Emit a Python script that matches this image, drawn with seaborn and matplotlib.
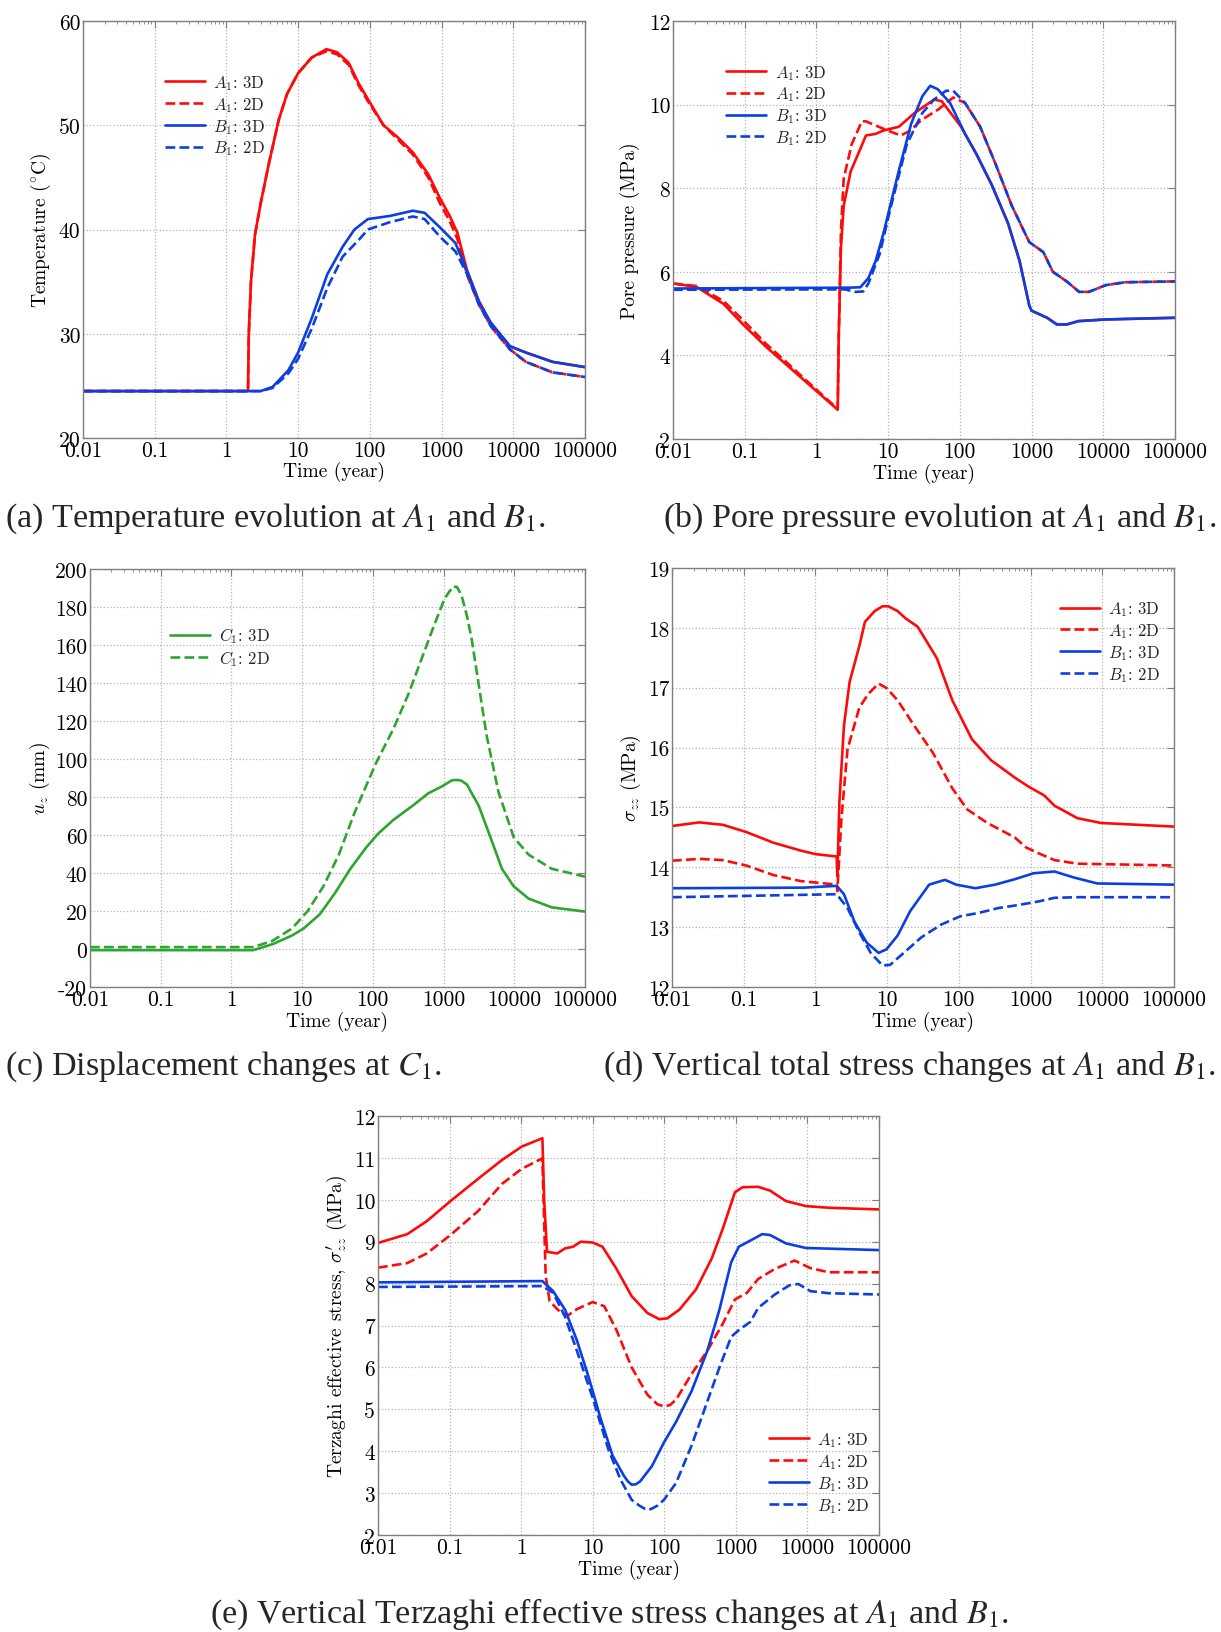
import numpy as np
import pandas as pd
import matplotlib
matplotlib.use("Agg")
import matplotlib.pyplot as plt
import matplotlib.ticker as mticker
import seaborn as sns

# ---------------- data: time (year) and responses ----------------
# (a) temperature (deg C)
t_temp_A3 = [0.01, 2.0, 2.05, 2.2, 2.5, 3.0, 3.9, 5.35, 7, 10, 15.5, 24.8, 35, 50.6, 70, 94,
             155, 240, 397, 653, 950, 1300, 1660, 2280, 3320, 4800, 9000, 14900, 35500, 100000]
temp_A3 = [24.5, 24.5, 30, 35, 39.5, 42.5, 46.3, 50.5, 53, 55, 56.5, 57.3, 57.0, 56, 54, 52.5,
           50, 48.9, 47.4, 45.3, 43, 41.3, 39.7, 36, 33.1, 31.1, 28.8, 28.2, 27.3, 26.8]
t_temp_A2 = [0.01, 2.0, 2.05, 2.2, 2.5, 3.0, 3.9, 5.35, 7, 10, 15.5, 24.8, 35, 50.6, 70, 94,
             155, 240, 397, 653, 950, 1300, 1660, 2280, 3320, 5000, 9000, 15000, 35000, 100000]
temp_A2 = [24.5, 24.5, 30, 35, 39.5, 42.5, 46.3, 50.5, 53, 55, 56.5, 57.1, 56.8, 55.8, 53.8, 52.3,
           50, 48.7, 47.2, 45.0, 42.5, 40.8, 39.1, 35.6, 32.8, 30.6, 28.5, 27.3, 26.3, 25.85]
t_temp_B3 = [0.01, 3.0, 4.4, 7.3, 10, 15.5, 25.5, 41.8, 61, 94, 190, 397, 580, 950, 1560,
             2280, 3320, 4800, 9000, 14900, 35500, 100000]
temp_B3 = [24.5, 24.5, 24.9, 26.5, 28.2, 31.5, 35.7, 38.35, 40, 41, 41.3, 41.8, 41.6, 40.2, 38.7,
           36, 33.1, 31.1, 28.8, 28.2, 27.3, 26.8]
t_temp_B2 = [0.01, 3.0, 4.4, 7.3, 10, 15.5, 25.5, 41.8, 70, 94, 190, 397, 580, 950, 1560,
             2280, 3320, 4800, 9000, 15000, 35000, 100000]
temp_B2 = [24.5, 24.5, 24.8, 26.2, 27.6, 30.5, 34.4, 37.4, 39.0, 40, 40.7, 41.25, 41, 39.3, 37.9,
           35.7, 32.8, 30.8, 28.5, 27.3, 26.3, 25.85]

# (b) pore pressure (MPa)
t_pp_A3 = [0.01, 0.0212, 0.0508, 0.095, 0.2, 0.375, 0.7, 1.16, 1.98, 2.05, 2.2, 2.4, 3.0, 4.0,
           4.9, 6.7, 8.6, 14.1, 23.4, 43.6, 56, 104, 171, 280, 470, 680, 930, 1000, 1650, 2250,
           3090, 4500, 10800, 100000]
pp_A3 = [5.72, 5.64, 5.23, 4.74, 4.2, 3.79, 3.38, 3.05, 2.7, 4.5, 6.6, 7.58, 8.4, 8.9,
         9.26, 9.3, 9.38, 9.47, 9.8, 10.12, 10.08, 9.47, 8.81, 8.07, 7.16, 6.26, 5.19, 5.07, 4.9, 4.74,
         4.74, 4.82, 4.86, 4.9]
t_pp_A2 = [0.01, 0.0212, 0.0508, 0.095, 0.2, 0.375, 0.7, 1.16, 1.98, 2.05, 2.2, 2.4, 3.1, 4.3,
           4.9, 6.7, 9.8, 15, 20.4, 29, 49.6, 81, 118, 192, 318, 530, 770, 930, 1460, 1980, 3090,
           4600, 6300, 10800, 20000, 100000]
pp_A2 = [5.72, 5.66, 5.3, 4.84, 4.27, 3.85, 3.42, 3.08, 2.72, 4.5, 7.0, 8.23, 9.05, 9.6,
         9.6, 9.5, 9.38, 9.26, 9.38, 9.63, 9.88, 10.17, 10.04, 9.47, 8.56, 7.58, 7.0, 6.71, 6.47, 6.0, 5.77,
         5.52, 5.52, 5.68, 5.75, 5.77]
t_pp_B3 = [0.01, 2.8, 4.1, 5.3, 6.7, 8.6, 14, 21, 30, 38.5, 49, 73, 118, 171, 280, 470, 680, 930,
           1000, 1650, 2250, 3090, 4500, 10800, 100000]
pp_B3 = [5.6, 5.62, 5.63, 5.85, 6.26, 6.92, 8.4, 9.55, 10.2, 10.45, 10.37, 10.04, 9.3, 8.81, 8.07,
         7.16, 6.26, 5.19, 5.07, 4.9, 4.74, 4.74, 4.82, 4.86, 4.9]
t_pp_B2 = [0.01, 2.5, 3.5, 4.5, 5.3, 7.6, 11, 18.2, 30, 43.6, 64, 81, 118, 192, 318, 530, 770, 930,
           1460, 1980, 3090, 4600, 6300, 10800, 20000, 100000]
pp_B2 = [5.57, 5.58, 5.52, 5.53, 5.72, 6.42, 7.58, 9.05, 9.8, 10.12, 10.33, 10.33, 10.04, 9.47, 8.56,
         7.58, 7.0, 6.71, 6.47, 6.0, 5.77, 5.52, 5.52, 5.68, 5.75, 5.77]

# (c) vertical displacement (mm)
t_uz_C3 = [0.01, 2.04, 3.8, 7.2, 10.5, 17.7, 29, 48, 80, 118, 196, 365, 605, 950, 1300, 1400,
           1650, 1800, 2150, 2500, 3140, 4600, 6700, 9800, 16000, 34000, 100000]
uz_C3 = [-0.6, -0.6, 2.5, 7.1, 10.8, 18.2, 29.3, 42.2, 53.3, 60.6, 68, 75.4, 81.9, 85.6, 88.7, 88.9,
         88.9, 88.5, 86.5, 82, 75.4, 58.8, 42.2, 33, 26.5, 21.9, 19.7]
t_uz_C2 = [0.01, 2.04, 3.8, 7.2, 12, 20, 33, 55, 110, 196, 321, 470, 690, 1030, 1200, 1380, 1550,
           1800, 2150, 2500, 2800, 4080, 5960, 9800, 16000, 34000, 100000]
uz_C2 = [1.0, 1.0, 4.3, 10.8, 20, 33, 49.6, 71.7, 97.6, 116, 134.5, 151, 167.7, 184.3, 188, 190.8,
         190.5, 186, 175, 163, 151, 112, 82.8, 58.8, 49.6, 42.2, 38.1]

# (d) vertical total stress (MPa)
t_szz_A3 = [0.01, 0.024, 0.051, 0.108, 0.26, 0.62, 1.0, 1.98, 2.02, 2.16, 2.5, 3.0, 4.1, 4.9, 6.7,
            8.6, 10.4, 14, 18, 26.6, 49.5, 81, 152, 280, 600, 930, 1550, 2150, 4500, 9600, 100000]
szz_A3 = [14.69, 14.75, 14.71, 14.59, 14.41, 14.28, 14.22, 14.18, 13.85, 15.1, 16.37, 17.1, 17.7,
          18.1, 18.28, 18.36, 18.36, 18.28, 18.16, 18.02, 17.49, 16.79, 16.14, 15.79, 15.5, 15.35,
          15.2, 15.03, 14.82, 14.74, 14.68]
t_szz_A2 = [0.01, 0.024, 0.051, 0.108, 0.26, 0.62, 1.98, 2.02, 2.3, 2.8, 4.1, 5.5, 7.6, 9.9, 14,
            23.4, 43.6, 81, 130, 250, 600, 870, 1260, 2150, 4500, 100000]
szz_A2 = [14.11, 14.14, 14.12, 14.03, 13.87, 13.77, 13.71, 13.6, 14.8, 15.97, 16.67, 16.9, 17.07,
          16.99, 16.79, 16.38, 15.91, 15.32, 14.97, 14.74, 14.5, 14.33, 14.24, 14.12, 14.06, 14.03]
t_szz_B3 = [0.01, 0.7, 1.98, 2.5, 3.5, 5.2, 7.6, 9.8, 14, 21, 38.5, 64, 92, 170, 320, 600, 1100,
            2150, 4000, 8500, 100000]
szz_B3 = [13.65, 13.66, 13.69, 13.55, 13.09, 12.74, 12.57, 12.63, 12.86, 13.27, 13.71, 13.79, 13.71,
          13.65, 13.71, 13.8, 13.9, 13.93, 13.83, 13.73, 13.71]
t_szz_B2 = [0.01, 1.98, 2.8, 4.1, 5.9, 8.6, 11, 18.2, 30, 56, 104, 192, 360, 680, 1300, 2150, 4500,
            100000]
szz_B2 = [13.5, 13.55, 13.32, 12.91, 12.57, 12.36, 12.37, 12.6, 12.83, 13.04, 13.18, 13.24, 13.32,
          13.37, 13.43, 13.49, 13.5, 13.5]

# (e) vertical Terzaghi effective stress (MPa)
t_eff_A3 = [0.01, 0.0256, 0.048, 0.103, 0.25, 0.54, 1.02, 1.98, 2.1, 2.3, 3.2, 4.1, 5.3, 6.8, 10,
            13.7, 21.5, 35, 58, 85, 110, 163, 277, 460, 660, 970, 1240, 2050, 3000, 5000, 9500,
            20000, 100000]
eff_A3 = [8.97, 9.18, 9.49, 9.97, 10.5, 10.95, 11.27, 11.47, 9.97, 8.76, 8.72, 8.84, 8.88, 9.0, 8.98,
          8.88, 8.35, 7.7, 7.3, 7.15, 7.17, 7.38, 7.86, 8.6, 9.32, 10.18, 10.3, 10.31, 10.22, 9.97,
          9.85, 9.81, 9.77]
t_eff_A2 = [0.01, 0.0256, 0.048, 0.103, 0.25, 0.54, 1.02, 1.98, 2.2, 2.5, 3.6, 4.6, 6.0, 10, 14.5,
            21.5, 35, 58, 80, 99, 120, 146, 240, 400, 660, 970, 1430, 2050, 3500, 6600, 11000, 20000,
            100000]
eff_A2 = [8.38, 8.49, 8.72, 9.16, 9.73, 10.38, 10.74, 10.99, 8.19, 7.58, 7.3, 7.25, 7.39, 7.56, 7.46,
          6.89, 6.0, 5.35, 5.12, 5.07, 5.1, 5.23, 5.84, 6.4, 7.05, 7.62, 7.78, 8.11, 8.35, 8.55, 8.37,
          8.27, 8.27]
t_eff_B3 = [0.01, 1.98, 2.8, 4.1, 6.0, 8.8, 12.9, 19.0, 27.6, 31, 35, 40, 46, 67, 99, 146, 240, 400,
            590, 860, 1100, 1820, 2330, 3000, 5000, 9500, 100000]
eff_B3 = [8.03, 8.06, 7.82, 7.38, 6.65, 5.76, 4.78, 3.89, 3.4, 3.28, 3.2, 3.21, 3.28, 3.64, 4.21,
          4.7, 5.43, 6.4, 7.38, 8.51, 8.88, 9.08, 9.18, 9.16, 8.96, 8.85, 8.8]
t_eff_B2 = [0.01, 1.98, 2.8, 4.1, 6.0, 10, 16.5, 24.5, 35, 45, 53, 60, 67, 80, 99, 146, 240, 400,
            590, 860, 1100, 1600, 2050, 3500, 5600, 7500, 11000, 20000, 100000]
eff_B2 = [7.92, 7.94, 7.78, 7.21, 6.4, 5.27, 4.05, 3.32, 2.84, 2.7, 2.63, 2.6, 2.63, 2.7, 2.84,
          3.24, 4.13, 5.19, 6.0, 6.73, 6.89, 7.09, 7.42, 7.74, 7.96, 7.99, 7.82, 7.77, 7.74]

x_tick_values = [0.01, 0.1, 1, 10, 100, 1000, 10000, 100000]
x_tick_labels = ["0.01", "0.1", "1", "10", "100", "1000", "10000", "100000"]

# ---------------- style ----------------
sns.set_theme(style="white")
plt.rcParams.update({
    "font.family": ["cmr10", "DejaVu Serif"],
    "mathtext.fontset": "cm",
    "axes.unicode_minus": False,
    "axes.edgecolor": "#7f7f7f",
    "axes.linewidth": 1.0,
    "xtick.color": "#7f7f7f",
    "ytick.color": "#7f7f7f",
    "xtick.labelcolor": "black",
    "ytick.labelcolor": "black",
    "xtick.labelsize": 15.5,
    "ytick.labelsize": 15.5,
    "axes.labelsize": 14,
    "axes.labelcolor": "black",
})

RED = "#ff0a0a"
BLUE = "#0d3fe0"
GREEN = "#2ea52e"
LW = 1.9

W, H = 1221, 1633
fig = plt.figure(figsize=(W / 100, H / 100), dpi=100)


def add_axes(left, right, top, bottom):
    return fig.add_axes([left / W, 1 - bottom / H, (right - left) / W, (bottom - top) / H])


def draw(ax, t, v, color, dashed, label):
    df = pd.DataFrame({"t": t, "v": v})
    sns.lineplot(data=df, x="t", y="v", ax=ax, color=color, lw=LW,
                 linestyle="--" if dashed else "-", label=label,
                 estimator=None, sort=False)


def style_axes(ax, yticks, ylim, ylabel, ylab_x):
    ax.set_xscale("log")
    ax.set_xlim(0.01, 1e5)
    ax.set_ylim(*ylim)
    ax.set_xticks(x_tick_values)
    ax.xaxis.set_major_formatter(mticker.FixedFormatter(x_tick_labels))
    ax.xaxis.set_minor_locator(mticker.LogLocator(base=10, subs=np.arange(2, 10), numticks=20))
    ax.xaxis.set_minor_formatter(mticker.NullFormatter())
    ax.set_yticks(yticks)
    ax.yaxis.set_major_formatter(mticker.FuncFormatter(lambda v, p: f"{v:g}"))
    ax.tick_params(which="both", direction="in", top=True, right=True)
    ax.tick_params(which="major", length=5, width=0.8, pad=2)
    ax.tick_params(which="minor", length=2.5, width=0.6)
    ax.grid(True, which="major", linestyle=":", color="#b4b4b4", linewidth=0.9)
    ax.set_xlabel("Time (year)")
    ax.set_ylabel(ylabel)
    ax.xaxis.set_label_coords(0.5, -0.056)
    ax.yaxis.set_label_coords(ylab_x, 0.5)
    for s in ax.spines.values():
        s.set_visible(True)


def legend(ax, x, y):
    ax.legend(loc="upper left", bbox_to_anchor=(x, y), frameon=False, fontsize=12,
              borderpad=0, borderaxespad=0, handlelength=2.4, handletextpad=0.5,
              labelspacing=0.18)


lab_A3, lab_A2 = "$A_1$: 3D", "$A_1$: 2D"
lab_B3, lab_B2 = "$B_1$: 3D", "$B_1$: 2D"

# (a) temperature
ax = add_axes(83, 585, 22, 439)
draw(ax, t_temp_A3, temp_A3, RED, False, lab_A3)
draw(ax, t_temp_A2, temp_A2, RED, True, lab_A2)
draw(ax, t_temp_B3, temp_B3, BLUE, False, lab_B3)
draw(ax, t_temp_B2, temp_B2, BLUE, True, lab_B2)
style_axes(ax, [20, 30, 40, 50, 60], (20, 60), r"Temperature ($^{\circ}$C)", -0.059)
legend(ax, 0.163, 0.875)

# (b) pore pressure
ax = add_axes(673, 1175, 22, 440)
draw(ax, t_pp_A3, pp_A3, RED, False, lab_A3)
draw(ax, t_pp_A2, pp_A2, RED, True, lab_A2)
draw(ax, t_pp_B3, pp_B3, BLUE, False, lab_B3)
draw(ax, t_pp_B2, pp_B2, BLUE, True, lab_B2)
style_axes(ax, [2, 4, 6, 8, 10, 12], (2, 12), "Pore pressure (MPa)", -0.065)
legend(ax, 0.106, 0.9)

# (c) displacement
ax = add_axes(90, 585, 570, 988)
draw(ax, t_uz_C3, uz_C3, GREEN, False, "$C_1$: 3D")
draw(ax, t_uz_C2, uz_C2, GREEN, True, "$C_1$: 2D")
style_axes(ax, list(range(-20, 201, 20)), (-20, 200), "$u_z$ (mm)", -0.076)
legend(ax, 0.162, 0.865)

# (d) vertical total stress
ax = add_axes(672, 1174, 569, 988)
draw(ax, t_szz_A3, szz_A3, RED, False, lab_A3)
draw(ax, t_szz_A2, szz_A2, RED, True, lab_A2)
draw(ax, t_szz_B3, szz_B3, BLUE, False, lab_B3)
draw(ax, t_szz_B2, szz_B2, BLUE, True, lab_B2)
style_axes(ax, list(range(12, 20)), (12, 19), r"$\sigma_{zz}$ (MPa)", -0.057)
legend(ax, 0.772, 0.925)

# (e) vertical Terzaghi effective stress
ax = add_axes(378, 879, 1117, 1536)
draw(ax, t_eff_A3, eff_A3, RED, False, lab_A3)
draw(ax, t_eff_A2, eff_A2, RED, True, lab_A2)
draw(ax, t_eff_B3, eff_B3, BLUE, False, lab_B3)
draw(ax, t_eff_B2, eff_B2, BLUE, True, lab_B2)
style_axes(ax, list(range(2, 13)), (2, 12),
           r"Terzaghi effective stress, $\sigma_{zz}^{\prime}$ (MPa)", -0.057)
legend(ax, 0.78, 0.25)

# ---------------- sub-figure captions ----------------
cap_kw = dict(family="Liberation Serif", fontsize=24.5, math_fontfamily="stix", va="baseline")
fig.text(5 / W, 1 - 527 / H, "(a) Temperature evolution at $A_1$ and $B_1$.", ha="left", **cap_kw)
fig.text(1216 / W, 1 - 527 / H, "(b) Pore pressure evolution at $A_1$ and $B_1$.", ha="right", **cap_kw)
fig.text(5 / W, 1 - 1075 / H, "(c) Displacement changes at $C_1$.", ha="left", **cap_kw)
fig.text(1216 / W, 1 - 1075 / H, "(d) Vertical total stress changes at $A_1$ and $B_1$.", ha="right", **cap_kw)
fig.text(609 / W, 1 - 1623 / H,
         "(e) Vertical Terzaghi effective stress changes at $A_1$ and $B_1$.", ha="center", **cap_kw)

fig.savefig("out.png", dpi=100, facecolor="white")
